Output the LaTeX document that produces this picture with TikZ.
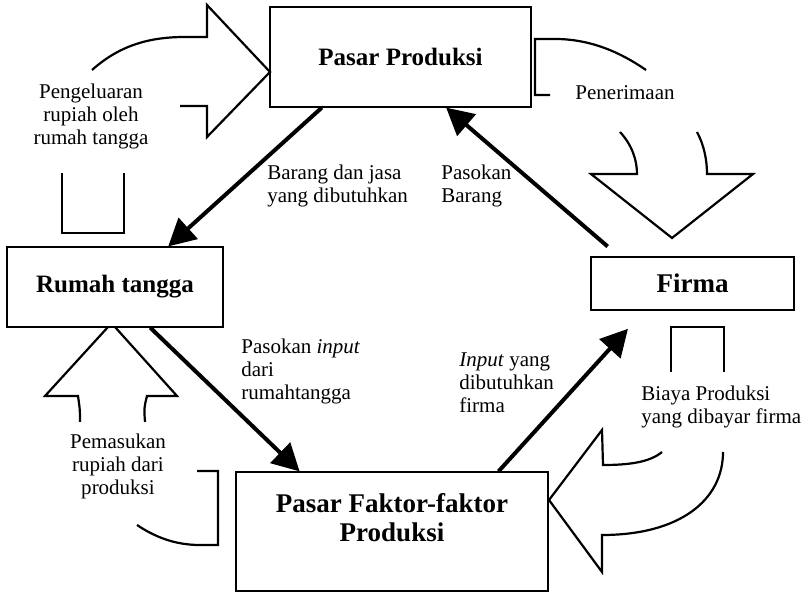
\documentclass[tikz,border=0pt]{standalone}
\usepackage{fontspec}
\setmainfont{Liberation Serif}
\usetikzlibrary{arrows.meta,calc}
\begin{document}
\begin{tikzpicture}[x=0.5pt,y=-0.5pt,
  kotak/.style={draw,line width=0.6pt,inner sep=0pt,font=\bfseries\fontsize{12.5}{14}\selectfont},
  besar/.style={font=\bfseries\fontsize{13.5}{14.2}\selectfont},
  aliran/.style={line width=2pt,-{Triangle[length=13.5pt,width=14pt]}},
  blok/.style={line width=1.1pt,line join=miter},
  ket/.style={inner sep=0pt,font=\fontsize{10.5}{11.5}\selectfont}]
\useasboundingbox (0,0) rectangle (802,592);

\node[kotak,minimum width=130.5pt,minimum height=50pt] (pp) at (400.5,57) {Pasar Produksi};
\node[kotak,minimum width=108pt,minimum height=40pt] (rt) at (115,287) {Rumah tangga};
\node[kotak,besar,minimum width=101.5pt,minimum height=26.5pt] (fi) at (692.5,283.5) {Firma};
\node[kotak,besar,align=center,minimum width=156pt,minimum height=59.5pt] (pf) at (392,531.5) {Pasar Faktor-faktor\\Produksi\\\mbox{}};

\draw[aliran] ($(pp.south west)!0.2!(pp.south east)$) -- ($(rt.north west)!0.745!(rt.north east)$);
\draw[aliran,shorten <=7.6pt] ($(fi.north west)!0.141!(fi.north east)$) -- ($(pp.south west)!0.674!(pp.south east)$);
\draw[aliran] ($(rt.south west)!0.662!(rt.south east)$) -- ($(pf.north west)!0.205!(pf.north east)$);
\draw[aliran,shorten >=12.3pt] ($(pf.north west)!0.84!(pf.north east)$) -- ($(fi.south west)!0.265!(fi.south east)$);

\draw[blok] (92,70) .. controls (120,45) and (150,37) .. (185,37) -- (207,37) -- (207,5)
  -- (270,72) -- (207,137) -- (207,106) -- (180,106);
\draw[blok] (62,173) -- (62,233) -- (124,233) -- (124,173);

\draw[blok] (646,70) .. controls (620,52) and (590,39) .. (555,39) -- (535,39) -- (535,95) -- (550,95);
\draw[blok] (620,132) .. controls (632,145) and (637,160) .. (637,174) -- (591,174)
  -- (672,238) -- (753,174) -- (707,174) .. controls (707,160) and (704,145) .. (697,132);

\draw[blok] (80,422) .. controls (80,410) .. (78,396) -- (45,396) -- (108,327);
\draw[blok] (145,422) .. controls (144,408) .. (147,396) -- (177,396) -- (115,327);
\draw[blok] (197,471) -- (218,471) -- (218,545) -- (200,545) .. controls (175,545) and (155,537) .. (137,525);

\draw[blok] (671,372) -- (671,327) -- (724,327) -- (724,372);
\draw[blok] (662,452) .. controls (650,462) and (630,465) .. (603,465) -- (602,430) -- (549,500)
  -- (602,572) -- (602,535) .. controls (680,535) and (723,500) .. (723,452);

\node[ket,align=center] (pengel) at (91,116) {Pengeluaran\\rupiah oleh\\rumah tangga};
\node[ket] (pener) at (625,93) {Penerimaan};
\node[ket,align=left,anchor=west] (barang) at (267,186) {Barang dan jasa\\yang dibutuhkan};
\node[ket,align=left,anchor=west] (pasokb) at (441,186) {Pasokan\\Barang};
\node[ket,align=left,anchor=west] (pasoki) at (241,371) {Pasokan \textit{input}\\dari\\rumahtangga};
\node[ket,align=left,anchor=west] (inputy) at (459,383) {\textit{Input} yang\\dibutuhkan\\firma};
\node[ket,align=left,anchor=west] (biaya) at (641,407) {Biaya Produksi\\yang dibayar firma};
\node[ket,align=center] (pemas) at (118,466) {Pemasukan\\rupiah dari\\produksi};

\end{tikzpicture}
\end{document}
